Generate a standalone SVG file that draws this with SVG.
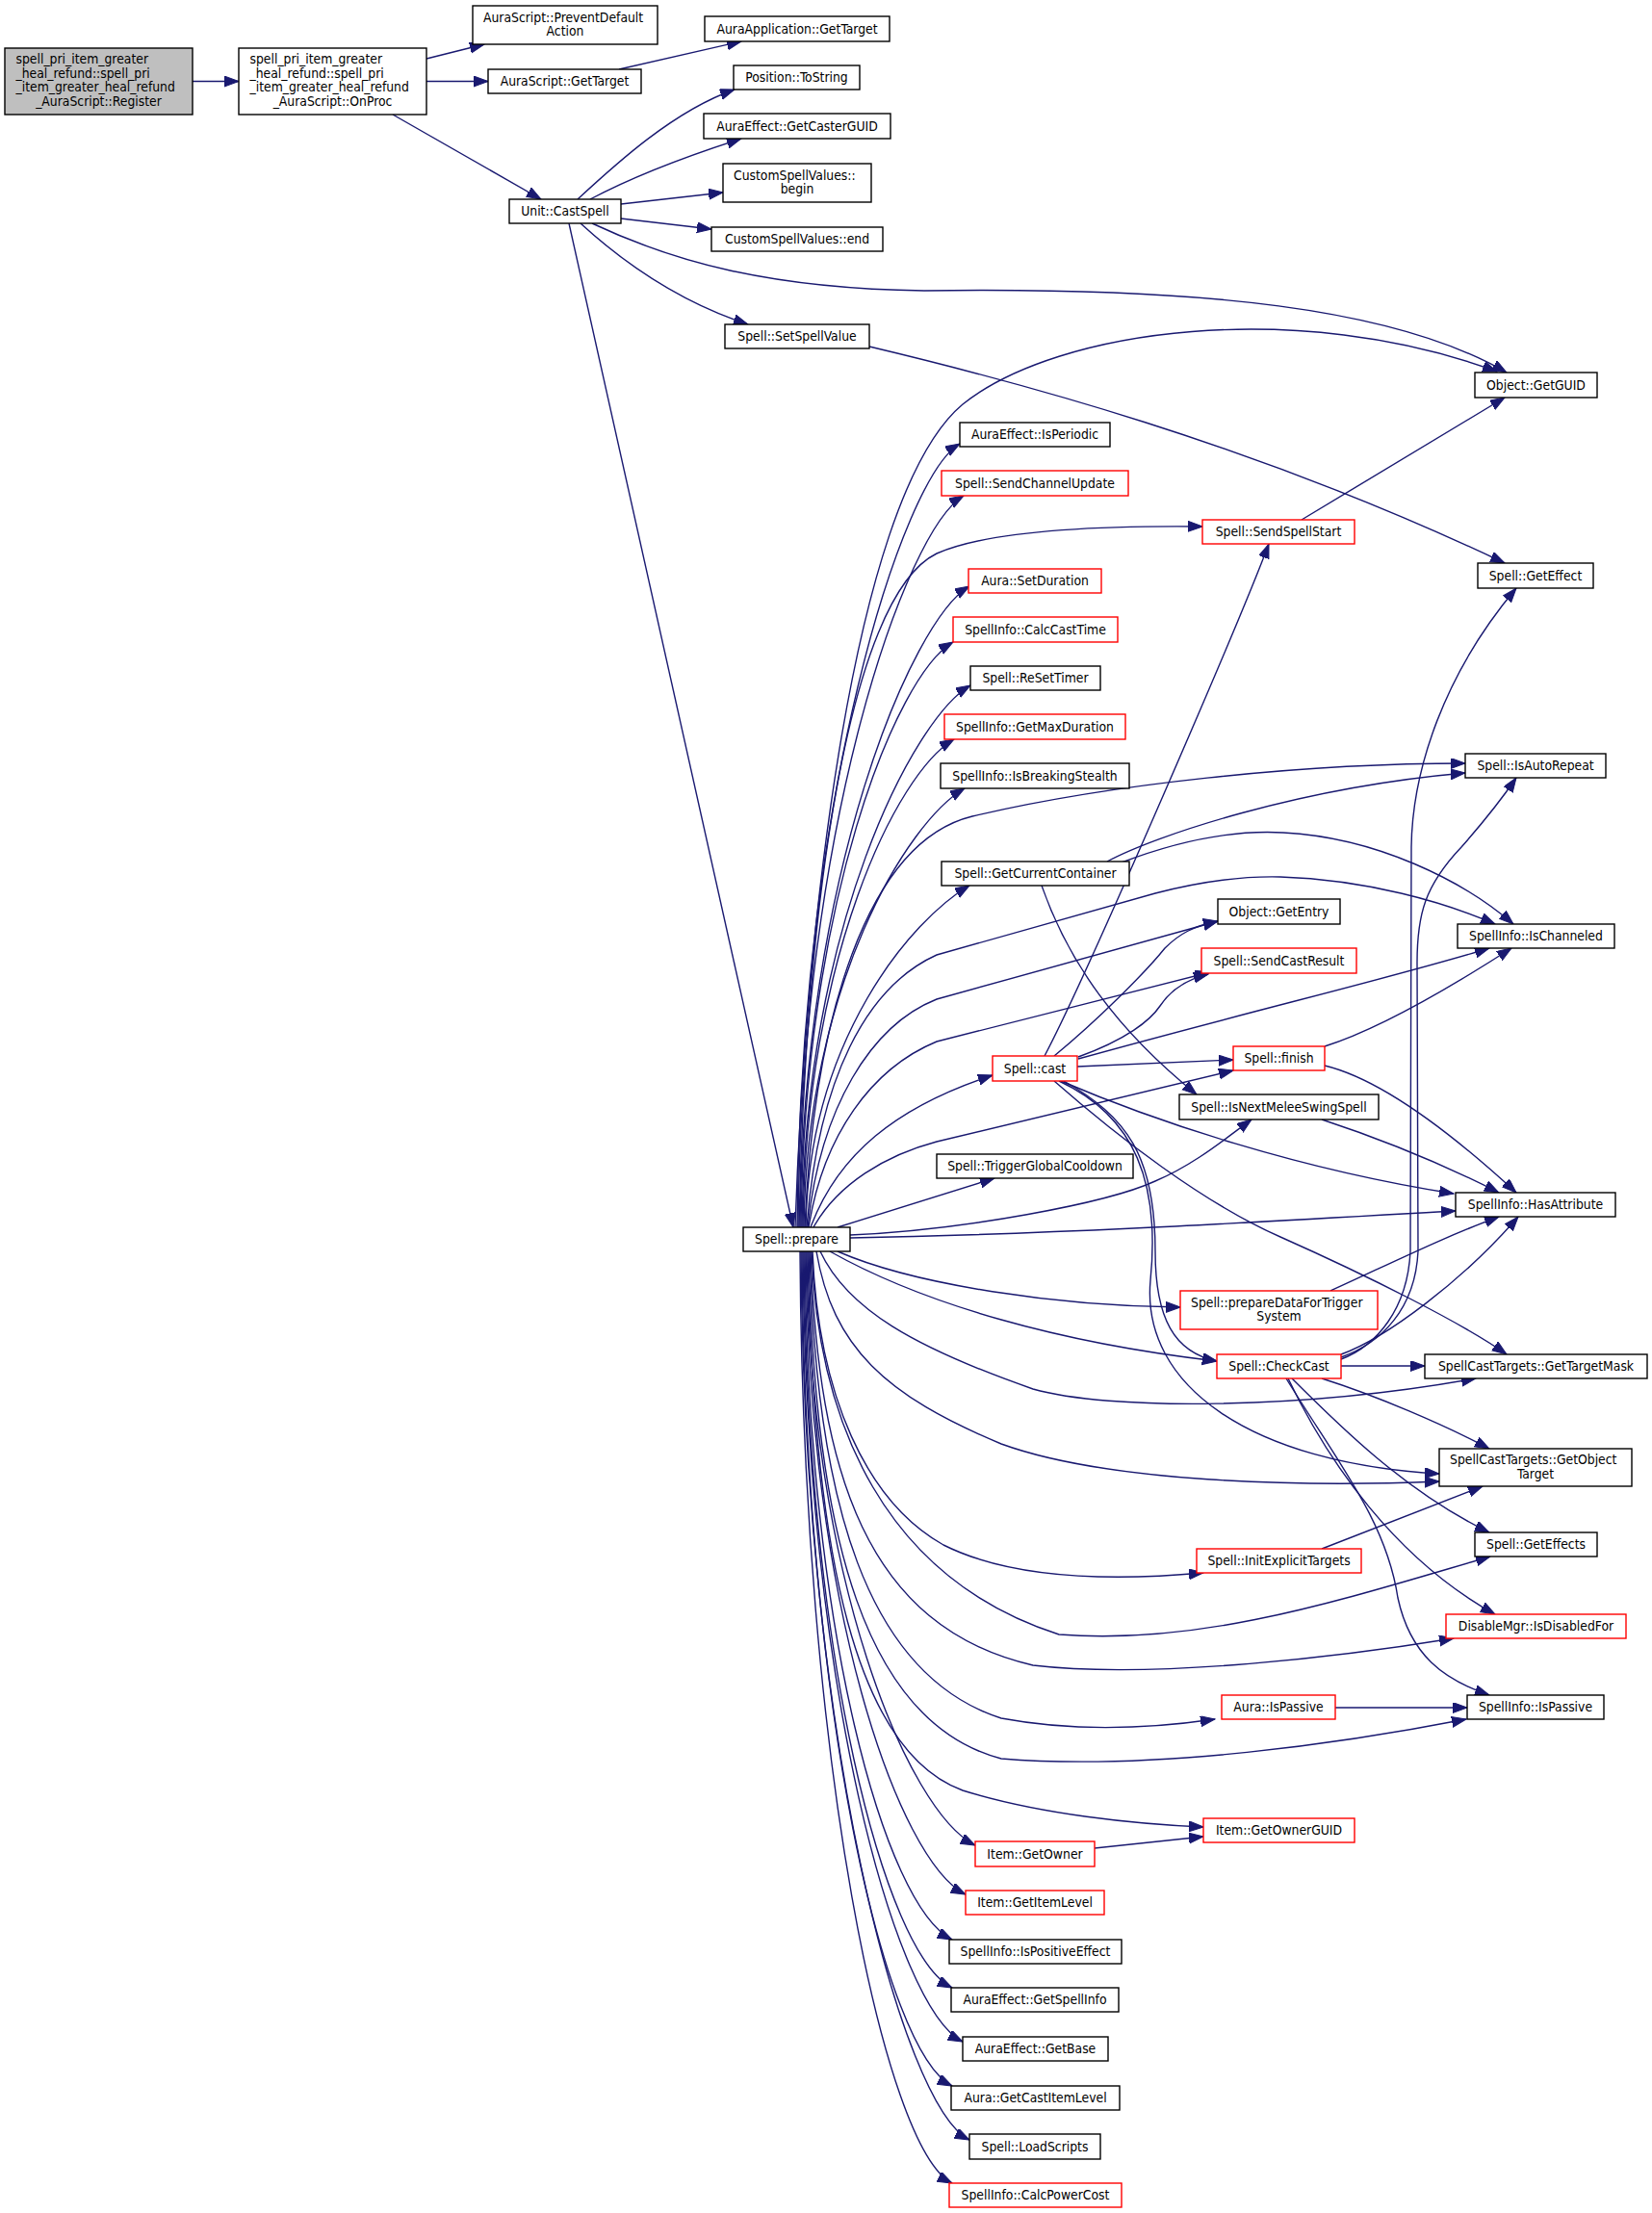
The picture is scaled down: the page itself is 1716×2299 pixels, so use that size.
<svg xmlns="http://www.w3.org/2000/svg" width="1716" height="2299" viewBox="0 0 1716 2299">
<style>
.e path{fill:none;stroke:#191970;stroke-width:1.4;marker-end:url(#a)}
rect{fill:#fff;stroke:#000;stroke-width:1.4}
.r rect{stroke:#f00}
.g rect{fill:#bfbfbf}
text{font-family:"DejaVu Sans Condensed","Liberation Sans",sans-serif;font-size:13.8px;fill:#000;text-anchor:middle}
text.l{text-anchor:start}
</style>
<defs>
<marker id="a" markerUnits="userSpaceOnUse" markerWidth="16" markerHeight="12" refX="15" refY="5.5" orient="auto"><path d="M0,0 L15,5.5 L0,11 z" fill="#191970" stroke="#191970" stroke-width="1"/></marker>
</defs>
<rect x="0" y="0" width="1716" height="2299" style="fill:#fff;stroke:none"/>
<g class="e" id="edges">
<path d="M200,84.5 L248,84.5"/>
<path d="M443,61 L503,46"/>
<path d="M443,84.5 L507,84.5"/>
<path d="M408,119 L562,207"/>
<path d="M643,72 L770,43"/>
<path d="M600,207 C640,170 700,115 763,93"/>
<path d="M613,207 C660,182 720,160 770,144"/>
<path d="M645,212 L751,200"/>
<path d="M645,227 L739,238"/>
<path d="M615,232 C700,272 800,300 960,302 C1250,298 1450,320 1565,387"/>
<path d="M603,232 C650,275 710,315 777,337"/>
<path d="M591,232 L824,1275"/>
<path d="M903,360 C1050,395 1300,460 1563,585"/>
<path d="M1352,540 L1563,413"/>
<path d="M826,1275 C835,1000 880,520 1000,420 C1100,340 1350,310 1555,386"/>
<path d="M828,1275 C831,827 937,496 997,461"/>
<path d="M829,1275 C832,857 941,550 1001,515"/>
<path d="M830,1275 C836,950 880,620 973,575 C1030,550 1150,546 1249,547"/>
<path d="M831,1275 C834,909 947,644 1007,609"/>
<path d="M832,1275 C835,941 930,702 990,667"/>
<path d="M833,1275 C836,965 948,747 1008,712"/>
<path d="M834,1275 C837,996 931,803 991,768"/>
<path d="M835,1275 C838,1024 942,854 1002,819"/>
<path d="M836,1275 C845,1060 900,875 1010,848 C1150,815 1350,793 1522,793"/>
<path d="M837,1275 C840,1080 947,955 1007,920"/>
<path d="M838,1275 C850,1120 900,1025 973,992 L1200,928 C1250,915 1290,910 1330,911 C1420,914 1500,937 1553,960"/>
<path d="M839,1275 C852,1150 905,1065 973,1038 L1265,957"/>
<path d="M840,1275 C855,1180 905,1110 973,1082 L1257,1010"/>
<path d="M842,1275 C870,1200 930,1150 1031,1117"/>
<path d="M845,1275 C870,1230 920,1200 973,1186 L1281,1112"/>
<path d="M870,1275 L1033,1224"/>
<path d="M883,1283 C1000,1278 1150,1250 1200,1227 C1240,1210 1270,1185 1300,1163"/>
<path d="M883,1286 C1100,1282 1300,1270 1512,1258"/>
<path d="M870,1300 C950,1335 1100,1357 1226,1358"/>
<path d="M862,1300 C960,1355 1100,1395 1264,1414"/>
<path d="M852,1300 C880,1360 950,1400 1073,1443 C1150,1465 1350,1465 1533,1432"/>
<path d="M848,1300 C865,1400 920,1450 1040,1500 C1150,1540 1350,1545 1495,1539"/>
<path d="M844,1300 C850,1450 900,1560 980,1605 C1050,1640 1150,1643 1250,1634"/>
<path d="M843,1300 C850,1480 920,1640 1100,1698 C1250,1710 1400,1660 1548,1617"/>
<path d="M842,1300 C850,1530 900,1690 1073,1730 C1200,1745 1400,1720 1510,1702"/>
<path d="M841,1300 C848,1560 900,1740 1040,1785 C1120,1800 1200,1795 1262,1786"/>
<path d="M840,1300 C846,1600 900,1790 1040,1827 C1200,1840 1400,1810 1523,1786"/>
<path d="M839,1300 C845,1620 890,1820 1000,1860 C1080,1885 1180,1895 1250,1898"/>
<path d="M838,1300 C841,1639 943,1882 1013,1917"/>
<path d="M837,1300 C840,1667 933,1933 1003,1968"/>
<path d="M836,1300 C839,1693 919,1980 989,2015"/>
<path d="M835,1300 C838,1721 919,2030 989,2065"/>
<path d="M834,1300 C837,1752 930,2086 1000,2121"/>
<path d="M833,1300 C836,1777 919,2132 989,2167"/>
<path d="M832,1300 C835,1808 937,2188 1007,2223"/>
<path d="M831,1300 C834,1832 919,2233 989,2268"/>
<path d="M1150,895 C1200,868 1350,818 1522,803"/>
<path d="M1165,896 C1220,875 1280,862 1333,865 C1430,870 1520,915 1572,960"/>
<path d="M1082,920 C1110,1000 1160,1070 1243,1137"/>
<path d="M1085,1097 C1130,1012 1290,640 1318,565"/>
<path d="M1095,1097 C1140,1060 1190,1010 1210,985 C1225,970 1240,962 1265,957"/>
<path d="M1120,1098 C1170,1080 1195,1060 1205,1045 C1215,1030 1230,1018 1255,1012"/>
<path d="M1120,1100 C1300,1050 1450,1015 1547,985"/>
<path d="M1119,1108 L1281,1101"/>
<path d="M1102,1123 C1200,1165 1350,1215 1510,1240"/>
<path d="M1095,1123 C1160,1180 1250,1250 1330,1285 C1420,1325 1520,1375 1565,1407"/>
<path d="M1105,1123 C1170,1160 1200,1200 1200,1300 C1200,1370 1220,1405 1264,1414"/>
<path d="M1100,1123 C1180,1160 1205,1230 1195,1330 C1185,1440 1300,1520 1495,1531"/>
<path d="M1376,1087 C1430,1070 1500,1030 1570,985"/>
<path d="M1376,1107 C1430,1120 1500,1170 1575,1239"/>
<path d="M1373,1163 C1440,1185 1500,1210 1557,1239"/>
<path d="M1382,1341 C1450,1310 1500,1285 1557,1264"/>
<path d="M1393,1407 C1440,1390 1520,1330 1577,1264"/>
<path d="M1393,1412 C1430,1398 1462,1360 1465,1300 L1466,880 C1467,800 1500,700 1575,611"/>
<path d="M1393,1410 C1435,1395 1470,1360 1473,1300 L1472,1000 C1472,950 1480,920 1518,880 C1540,855 1560,830 1575,808"/>
<path d="M1393,1419 L1480,1419"/>
<path d="M1373,1432 C1430,1450 1500,1480 1547,1505"/>
<path d="M1342,1432 C1390,1480 1460,1550 1547,1592"/>
<path d="M1338,1432 C1380,1520 1450,1620 1553,1677"/>
<path d="M1336,1432 C1390,1520 1440,1580 1452,1660 C1465,1720 1500,1745 1547,1761"/>
<path d="M1387,1774 L1524,1774"/>
<path d="M1373,1609 L1540,1544"/>
<path d="M1137,1920 L1250,1908"/>
</g>
<g id="n_register" class="g"><rect x="5" y="50" width="195" height="69"/><text class="l" x="16.5" y="66">spell_pri_item_greater</text><text class="l" x="16.5" y="80.5">_heal_refund::spell_pri</text><text class="l" x="16.5" y="95">_item_greater_heal_refund</text><text x="102.5" y="109.5">_AuraScript::Register</text></g>
<g id="n_onproc"><rect x="248" y="50" width="195" height="69"/><text class="l" x="259.5" y="66">spell_pri_item_greater</text><text class="l" x="259.5" y="80.5">_heal_refund::spell_pri</text><text class="l" x="259.5" y="95">_item_greater_heal_refund</text><text x="345.5" y="109.5">_AuraScript::OnProc</text></g>
<g id="n_prevent"><rect x="491" y="6" width="192" height="40"/><text class="l" x="502" y="22.5">AuraScript::PreventDefault</text><text x="587" y="37">Action</text></g>
<g id="n_asgettarget"><rect x="507" y="72" width="159" height="25"/><text x="586.5" y="89">AuraScript::GetTarget</text></g>
<g id="n_aagettarget"><rect x="732" y="17" width="192" height="26"/><text x="828" y="34.5">AuraApplication::GetTarget</text></g>
<g id="n_tostring"><rect x="762" y="68" width="131" height="25"/><text x="827.5" y="85">Position::ToString</text></g>
<g id="n_castguid"><rect x="731" y="118" width="194" height="26"/><text x="828" y="135.5">AuraEffect::GetCasterGUID</text></g>
<g id="n_begin"><rect x="751" y="170" width="154" height="40"/><text class="l" x="762" y="186.5">CustomSpellValues::</text><text x="828" y="201">begin</text></g>
<g id="n_castspell"><rect x="529" y="207" width="116" height="25"/><text x="587" y="224">Unit::CastSpell</text></g>
<g id="n_end"><rect x="739" y="236" width="178" height="25"/><text x="828" y="253">CustomSpellValues::end</text></g>
<g id="n_setspellvalue"><rect x="753" y="337" width="150" height="25"/><text x="828" y="354">Spell::SetSpellValue</text></g>
<g id="n_getguid"><rect x="1532" y="387" width="127" height="26"/><text x="1595.5" y="404.5">Object::GetGUID</text></g>
<g id="n_isperiodic"><rect x="997" y="439" width="156" height="25"/><text x="1075" y="456">AuraEffect::IsPeriodic</text></g>
<g id="n_sendchannel" class="r"><rect x="978" y="489" width="194" height="26"/><text x="1075" y="506.5">Spell::SendChannelUpdate</text></g>
<g id="n_sendspellstart" class="r"><rect x="1249" y="540" width="158" height="25"/><text x="1328" y="557">Spell::SendSpellStart</text></g>
<g id="n_geteffect"><rect x="1535" y="585" width="120" height="26"/><text x="1595" y="602.5">Spell::GetEffect</text></g>
<g id="n_setduration" class="r"><rect x="1006" y="591" width="138" height="25"/><text x="1075" y="608">Aura::SetDuration</text></g>
<g id="n_calccasttime" class="r"><rect x="990" y="641" width="171" height="26"/><text x="1075.5" y="658.5">SpellInfo::CalcCastTime</text></g>
<g id="n_resettimer"><rect x="1008" y="692" width="135" height="25"/><text x="1075.5" y="709">Spell::ReSetTimer</text></g>
<g id="n_getmaxduration" class="r"><rect x="981" y="742" width="188" height="26"/><text x="1075" y="759.5">SpellInfo::GetMaxDuration</text></g>
<g id="n_breakingstealth"><rect x="977" y="793" width="196" height="26"/><text x="1075" y="810.5">SpellInfo::IsBreakingStealth</text></g>
<g id="n_isautorepeat"><rect x="1522" y="783" width="146" height="25"/><text x="1595" y="800">Spell::IsAutoRepeat</text></g>
<g id="n_currentcontainer"><rect x="978" y="895" width="195" height="25"/><text x="1075.5" y="912">Spell::GetCurrentContainer</text></g>
<g id="n_getentry"><rect x="1265" y="934" width="127" height="26"/><text x="1328.5" y="951.5">Object::GetEntry</text></g>
<g id="n_ischanneled"><rect x="1514" y="960" width="163" height="25"/><text x="1595.5" y="977">SpellInfo::IsChanneled</text></g>
<g id="n_sendcastresult" class="r"><rect x="1248" y="985" width="161" height="26"/><text x="1328.5" y="1002.5">Spell::SendCastResult</text></g>
<g id="n_cast" class="r"><rect x="1031" y="1097" width="88" height="26"/><text x="1075" y="1114.5">Spell::cast</text></g>
<g id="n_finish" class="r"><rect x="1281" y="1087" width="95" height="25"/><text x="1328.5" y="1104">Spell::finish</text></g>
<g id="n_nextmelee"><rect x="1225" y="1137" width="207" height="26"/><text x="1328.5" y="1154.5">Spell::IsNextMeleeSwingSpell</text></g>
<g id="n_triggergcd"><rect x="973" y="1199" width="204" height="25"/><text x="1075" y="1216">Spell::TriggerGlobalCooldown</text></g>
<g id="n_hasattribute"><rect x="1512" y="1239" width="166" height="25"/><text x="1595" y="1256">SpellInfo::HasAttribute</text></g>
<g id="n_prepare"><rect x="772" y="1275" width="111" height="25"/><text x="827.5" y="1292">Spell::prepare</text></g>
<g id="n_preparedata" class="r"><rect x="1226" y="1341" width="205" height="40"/><text class="l" x="1237" y="1357.5">Spell::prepareDataForTrigger</text><text x="1328.5" y="1372">System</text></g>
<g id="n_checkcast" class="r"><rect x="1264" y="1407" width="129" height="25"/><text x="1328.5" y="1424">Spell::CheckCast</text></g>
<g id="n_targetmask"><rect x="1480" y="1407" width="231" height="25"/><text x="1595.5" y="1424">SpellCastTargets::GetTargetMask</text></g>
<g id="n_objecttarget"><rect x="1495" y="1505" width="200" height="39"/><text class="l" x="1506" y="1521">SpellCastTargets::GetObject</text><text x="1595" y="1535.5">Target</text></g>
<g id="n_geteffects"><rect x="1532" y="1592" width="127" height="25"/><text x="1595.5" y="1609">Spell::GetEffects</text></g>
<g id="n_initexplicit" class="r"><rect x="1243" y="1609" width="171" height="25"/><text x="1328.5" y="1626">Spell::InitExplicitTargets</text></g>
<g id="n_isdisabled" class="r"><rect x="1502" y="1677" width="187" height="25"/><text x="1595.5" y="1694">DisableMgr::IsDisabledFor</text></g>
<g id="n_aurapassive" class="r"><rect x="1269" y="1761" width="118" height="25"/><text x="1328" y="1778">Aura::IsPassive</text></g>
<g id="n_infopassive"><rect x="1524" y="1761" width="142" height="25"/><text x="1595" y="1778">SpellInfo::IsPassive</text></g>
<g id="n_ownerguid" class="r"><rect x="1250" y="1889" width="157" height="25"/><text x="1328.5" y="1906">Item::GetOwnerGUID</text></g>
<g id="n_getowner" class="r"><rect x="1013" y="1913" width="124" height="26"/><text x="1075" y="1930.5">Item::GetOwner</text></g>
<g id="n_getitemlevel" class="r"><rect x="1003" y="1964" width="144" height="25"/><text x="1075" y="1981">Item::GetItemLevel</text></g>
<g id="n_positive"><rect x="986" y="2015" width="179" height="25"/><text x="1075.5" y="2032">SpellInfo::IsPositiveEffect</text></g>
<g id="n_getspellinfo"><rect x="988" y="2065" width="174" height="25"/><text x="1075" y="2082">AuraEffect::GetSpellInfo</text></g>
<g id="n_getbase"><rect x="1000" y="2116" width="151" height="25"/><text x="1075.5" y="2133">AuraEffect::GetBase</text></g>
<g id="n_castitemlevel"><rect x="988" y="2167" width="175" height="25"/><text x="1075.5" y="2184">Aura::GetCastItemLevel</text></g>
<g id="n_loadscripts"><rect x="1007" y="2217" width="136" height="26"/><text x="1075" y="2234.5">Spell::LoadScripts</text></g>
<g id="n_powercost" class="r"><rect x="986" y="2268" width="179" height="25"/><text x="1075.5" y="2285">SpellInfo::CalcPowerCost</text></g>
</svg>
